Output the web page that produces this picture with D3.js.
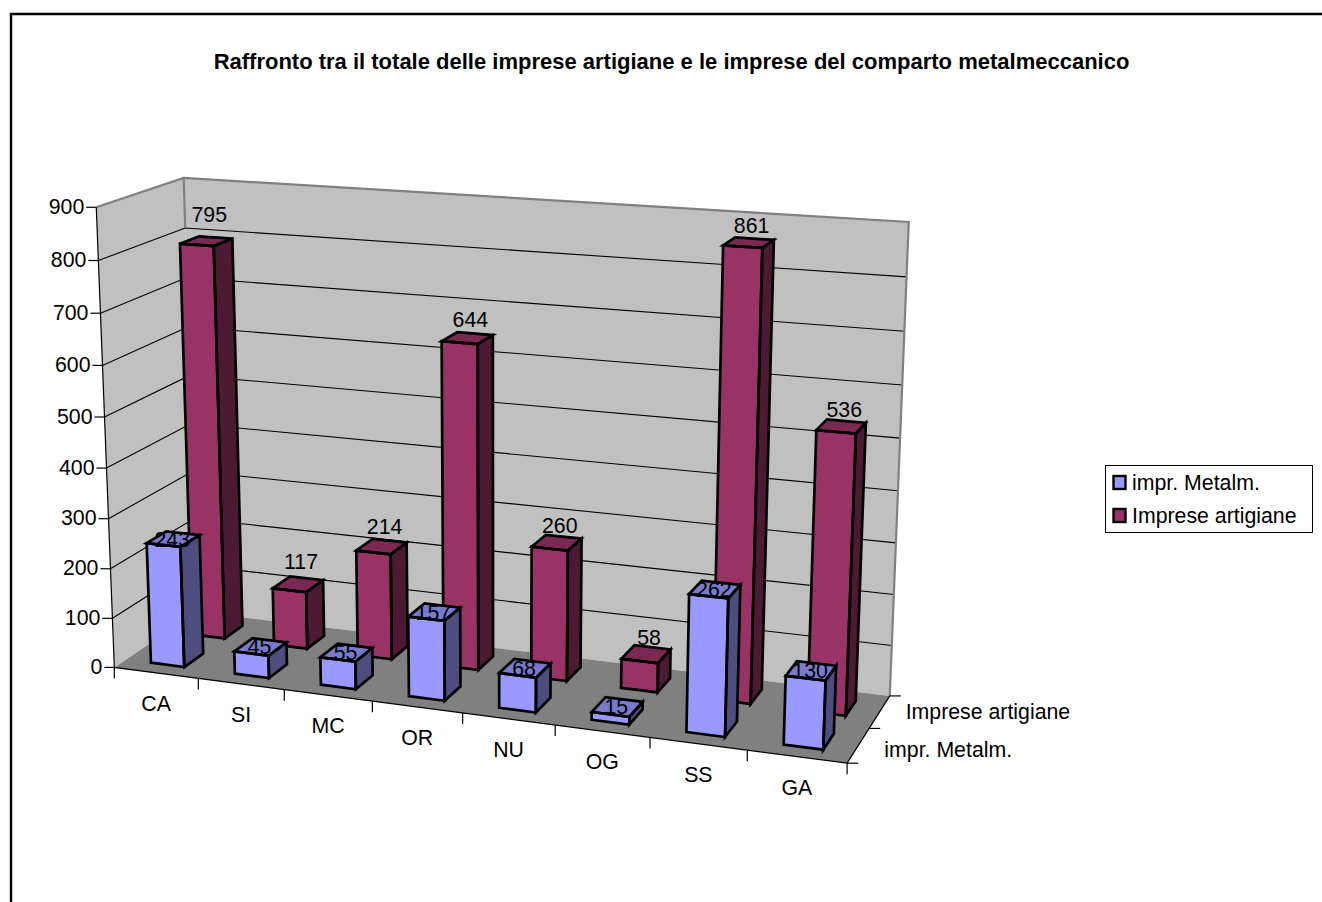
<!DOCTYPE html>
<html>
<head>
<meta charset="utf-8">
<script src="https://cdnjs.cloudflare.com/ajax/libs/d3/7.8.5/d3.min.js"></script>
<style>
html,body{margin:0;padding:0;background:#fff;overflow:hidden}
svg{display:block}
text{font-family:"Liberation Sans",Arial,sans-serif;fill:#000}
</style>
</head>
<body>
<svg id="chart" width="1322" height="902"></svg>
<script>
const titleText = "Raffronto tra il totale delle imprese artigiane e le imprese del comparto metalmeccanico";
const categories = ["CA","SI","MC","OR","NU","OG","SS","GA"];
const seriesNames = ["impr. Metalm.","Imprese artigiane"];
const metalmValues = [243,45,55,157,68,15,262,130];
const artigianeValues = [795,117,214,644,260,58,861,536];
const valueMax = 900;
const valueStep = 100;
const labelSize = 21.3;

const palette = [
  {front:"#9999FF", top:"#7A7ACC", side:"#4D4D80"},
  {front:"#993366", top:"#7A2952", side:"#4D1A33"}
];

// Box geometry: unit cube coordinates (across, up, depth), page x, page y, fit weight.
const anchors = [
  [0,0,0,115,668,6],[1,0,0,847,763,6],[0,1,0,96,207,6],[0,0,1,196,611,3],
  [1,0,1,890,696,8],[0,1,1,184,178,6],[1,1,1,909,222,8],
  [.5,0,0,462,713,2],[0,4/9,0,106,467,1],
  [1,8/9,1,905,277,1],[1,5/9,1,899,438,1],[0,8/9,1,185,229,1]
];

function solveProjection(pts){
  const n = 11, A = d3.range(n).map(()=>new Array(n+1).fill(0));
  const add = (row, rhs, wt) => {
    for(let i=0;i<n;i++){
      for(let j=0;j<n;j++) A[i][j]+=wt*row[i]*row[j];
      A[i][n]+=wt*row[i]*rhs;
    }
  };
  pts.forEach(([u,v,w,X,Y,wt])=>{
    add([u,v,w,1,0,0,0,0,-X*u,-X*v,-X*w],X,wt);
    add([0,0,0,0,u,v,w,1,-Y*u,-Y*v,-Y*w],Y,wt);
  });
  for(let i=0;i<n;i++){
    let p=i; for(let r=i+1;r<n;r++) if(Math.abs(A[r][i])>Math.abs(A[p][i])) p=r;
    [A[i],A[p]]=[A[p],A[i]];
    for(let r=0;r<n;r++){
      if(r===i) continue;
      const f=A[r][i]/A[i][i];
      for(let c=i;c<=n;c++) A[r][c]-=f*A[i][c];
    }
  }
  return A.map((r,i)=>r[n]/r[i]);
}
const h = solveProjection(anchors);
const project = (u,v,w) => {
  const d = h[8]*u+h[9]*v+h[10]*w+1;
  return [(h[0]*u+h[1]*v+h[2]*w+h[3])/d,(h[4]*u+h[5]*v+h[6]*w+h[7])/d];
};

const xScale = d3.scaleBand().domain(categories).range([0,1]);
const yScale = d3.scaleLinear().domain([0,valueMax]).range([0,1]);
const zScale = d3.scaleBand().domain(seriesNames).range([0,1]);
const yTicks = d3.range(0,valueMax+1,valueStep);

const barInsetX = 0.30, barInsetZ = 0.27;
const path = d3.line().curve(d3.curveLinearClosed);
const open = d3.line();

const svg = d3.select("#chart");

// Outer frame: only its top and left sides fall inside the page.
svg.append("path").attr("d",open([[11,1000],[11,14],[1400,14]]))
   .attr("fill","none").attr("stroke","#000").attr("stroke-width",2.4);

svg.append("text").attr("x",671.5).attr("y",69).attr("text-anchor","middle")
   .attr("font-size",22).attr("font-weight","bold").text(titleText);

// Walls and floor
const walls = svg.append("g");
walls.append("path").attr("d",path([project(0,0,1),project(1,0,1),project(1,1,1),project(0,1,1)])).attr("fill","#C0C0C0");
walls.append("path").attr("d",path([project(0,0,0),project(0,0,1),project(0,1,1),project(0,1,0)])).attr("fill","#C0C0C0");
walls.append("path").attr("d",path([project(0,0,0),project(1,0,0),project(1,0,1),project(0,0,1)])).attr("fill","#808080");

// Gridlines across the side wall and the back wall
const grid = svg.append("g").attr("fill","none").attr("stroke","#000").attr("stroke-width",1.1);
yTicks.slice(1,-1).forEach(t=>{
  const v=yScale(t);
  grid.append("path").attr("d",open([project(0,v,0),project(0,v,1),project(1,v,1)]));
});

// Grey outline along the wall tops and corners
const rim = svg.append("g").attr("fill","none").attr("stroke","#808080").attr("stroke-width",2.2);
rim.append("path").attr("d",open([project(0,1,0),project(0,1,1),project(1,1,1),project(1,0,1)]));
rim.append("path").attr("d",open([project(0,1,1),project(0,8/9,1)]));

// Axis lines, ticks and their labels
const axes = svg.append("g").attr("fill","none").attr("stroke","#000").attr("stroke-width",1.2);
axes.append("path").attr("d",open([project(0,1,0),project(0,0,0),project(1,0,0),project(1,0,1)]));

yTicks.forEach(t=>{
  const [x,y]=project(0,yScale(t),0);
  axes.append("path").attr("d",open([[x-10,y],[x,y]]));
  svg.append("text").attr("x",x-12).attr("y",y+6.5).attr("text-anchor","end").attr("font-size",labelSize).text(t);
});
[...categories.map(c=>xScale(c)),1].forEach(u=>{
  const [x,y]=project(u,0,0);
  axes.append("path").attr("d",open([[x,y],[x,y+11]]));
});
categories.forEach(c=>{
  const [x,y]=project(xScale(c)+xScale.bandwidth()/2,0,0);
  svg.append("text").attr("x",x).attr("y",y+38).attr("text-anchor","middle").attr("font-size",labelSize).text(c);
});
[0,.5,1].forEach(w=>{
  const [x,y]=project(1,0,w);
  axes.append("path").attr("d",open([[x,y],[x+11,y]]));
});
seriesNames.forEach((s,i)=>{
  const [x,y]=project(1,0,zScale(s)+zScale.bandwidth()/2);
  svg.append("text").attr("x",x+26).attr("y",y+(i===0?11:7.5)).attr("font-size",labelSize).text(s);
});

// Columns: the back series first, then the front one, each left to right
const seriesValues = [metalmValues,artigianeValues];
[1,0].forEach(si=>{
  const name = seriesNames[si], col = palette[si];
  const zBand = zScale(name), zw = zScale.bandwidth();
  const w0 = zBand+zw*barInsetZ, w1 = zBand+zw*(1-barInsetZ);
  categories.forEach((c,i)=>{
    const val = seriesValues[si][i];
    const u0 = xScale(c)+xScale.bandwidth()*barInsetX, u1 = xScale(c)+xScale.bandwidth()*(1-barInsetX);
    const v = yScale(val);
    const faces = [
      {fill:col.side, pts:[project(u1,0,w0),project(u1,0,w1),project(u1,v,w1),project(u1,v,w0)]},
      {fill:col.front,pts:[project(u0,0,w0),project(u1,0,w0),project(u1,v,w0),project(u0,v,w0)]},
      {fill:col.top,  pts:[project(u0,v,w0),project(u1,v,w0),project(u1,v,w1),project(u0,v,w1)]}
    ];
    const g = svg.append("g");
    faces.forEach(f=>g.append("path").attr("d",path(f.pts)).attr("fill",f.fill));
    const [cx,cy]=project((u0+u1)/2,v,(w0+w1)/2);
    // Rear-series labels float above their columns, a little higher toward the left.
    const lift = si===1 ? 16.5+10.5*Math.exp(-(cx-207)/150) : 0;
    g.append("text").attr("x",cx+(si===1?3:-1)).attr("y",cy-lift+7.5).attr("text-anchor","middle")
      .attr("font-size",labelSize).text(val);
    faces.forEach(f=>g.append("path").attr("d",path(f.pts)).attr("fill","none")
      .attr("stroke","#000").attr("stroke-width",2.7));
  });
});

// Legend
const legend = svg.append("g");
legend.append("rect").attr("x",1105.5).attr("y",465.5).attr("width",207).attr("height",67)
  .attr("fill","#fff").attr("stroke","#000").attr("stroke-width",1);
seriesNames.forEach((s,i)=>{
  const y = 476+i*33;
  legend.append("rect").attr("x",1113.5).attr("y",y).attr("width",12).attr("height",13)
    .attr("fill",palette[i].front).attr("stroke","#000").attr("stroke-width",2.4);
  legend.append("text").attr("x",1132).attr("y",y+14).attr("font-size",labelSize).text(s);
});
</script>
</body>
</html>
